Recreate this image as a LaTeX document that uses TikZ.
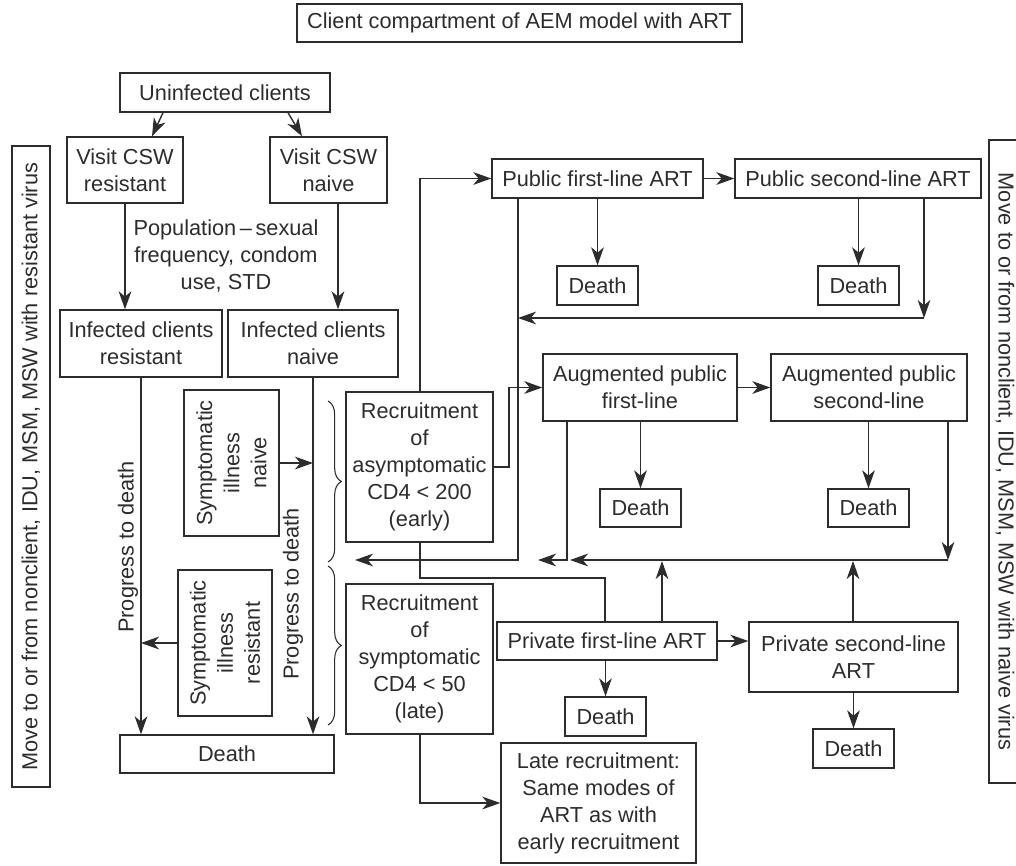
\documentclass[tikz,border=0pt]{standalone}
\usepackage{fontspec}
\setmainfont{Liberation Sans}
\usetikzlibrary{arrows.meta,decorations.pathreplacing,calc}
\definecolor{ink}{HTML}{2c2c2c}
\newcommand{\dfont}{\fontsize{16.3}{20.3}\selectfont}
% \mkbox[options]{name}{x1}{y1}{x2}{y2}{text}: box given by its corners
\newcommand{\mkbox}[7][]{%
  \node[box,#1,minimum width={(#5-#3)*0.75pt},minimum height={(#6-#4)*0.75pt}]
    (#2) at ({(#3+#5)/2},{(#4+#6)/2}) {#7};}
\tikzset{
  box/.style={draw, rectangle, inner sep=1pt, align=center, font=\dfont},
  rot/.style={rotate=90, align=center, font=\dfont, inner sep=0pt},
  lbl/.style={align=center, font=\dfont, inner sep=0pt},
  arr/.style={-{Stealth[length=13.5pt,width=9.5pt,inset=4pt]}},
  brc/.style={decorate, decoration={brace, amplitude=10pt}, line width=0.8pt}
}
\begin{document}
\begin{tikzpicture}[x=0.75pt, y=-0.75pt, line width=1.05pt, color=ink]
\useasboundingbox (0,0) rectangle (1016,865);

% title
\mkbox{title}{297}{4}{742}{42}{Client compartment of AEM model with ART}

% side boxes
\mkbox{sidel}{12}{146}{50}{787}{}
\node[rot] at (sidel) {Move to or from nonclient, IDU, MSM, MSW with resistant virus};
\mkbox{sider}{989}{140}{1021}{783}{}
\node[rotate=-90, font=\dfont, inner sep=0pt] at (sider) {Move to or from nonclient, IDU, MSM, MSW with naive virus};

% infection part
\mkbox{unin}{120}{73}{330}{112}{Uninfected clients}
\mkbox{vcr}{67}{137}{183}{203}{Visit CSW\\resistant}
\mkbox{vcn}{270}{137}{387}{203}{Visit CSW\\naive}
\mkbox{icr}{60}{310}{222}{377}{Infected clients\\resistant}
\mkbox{icn}{228}{310}{398}{377}{Infected clients\\naive}
\mkbox{sin}{184}{390}{279}{536}{}
\node[rot] at (sin) {Symptomatic\\illness\\naive};
\mkbox{sir}{178}{570}{272}{716}{}
\node[rot] at (sir) {Symptomatic\\illness\\resistant};
\mkbox{dth}{120}{735}{334}{773}{Death}

\node[lbl] (pop) at (226,256) {Population\,–\,sexual\\frequency, condom\\use, STD};
\node[rot] (pgl) at (128,547) {Progress to death};
\node[rot] (pgr) at (293,594) {Progress to death};

\draw[arr] (163,0 |- unin.south) -- (152,0 |- vcr.north);
\draw[arr] (288,0 |- unin.south) -- (302,0 |- vcn.north);
\draw[arr] (125,0 |- vcr.south) -- (125,0 |- icr.north);
\draw[arr] (338,0 |- vcn.south) -- (338,0 |- icn.north);
\draw[arr] (141,0 |- icr.south) -- (141,0 |- dth.north);
\draw[arr] (313,0 |- icn.south) -- (313,0 |- dth.north);
\draw[arr] (sin.east) -- (313,0 |- sin.east);
\draw[arr] (sir.west) -- (141,0 |- sir.west);

% braces grouping the recruitment stages
\coordinate (b1a) at (328,401);
\coordinate (b1b) at (328,562);
\coordinate (b2a) at (328,566);
\coordinate (b2b) at (328,725);
\draw[brc] (b1a) -- (b1b);
\draw[brc] (b2a) -- (b2b);

% recruitment
\mkbox{rec}{346}{392}{493}{542}{Recruitment\\of\\asymptomatic\\CD4 < 200\\(early)}
\mkbox{rlt}{346}{584}{493}{734}{Recruitment\\of\\symptomatic\\CD4 < 50\\(late)}
\mkbox{late}{501}{743}{696}{863}{Late recruitment:\\Same modes of\\ART as with\\early recruitment}

% treatment compartments
\mkbox{pub1}{492}{159}{703}{198}{Public first-line ART}
\mkbox{pub2}{735}{159}{981}{198}{Public second-line ART}
\mkbox{dp1}{557}{266}{638}{305}{Death}
\mkbox{dp2}{818}{266}{899}{305}{Death}
\mkbox{aug1}{543}{354}{737}{421}{Augmented public\\first-line}
\mkbox{aug2}{771}{354}{967}{421}{Augmented public\\second-line}
\mkbox{da1}{600}{489}{681}{527}{Death}
\mkbox{da2}{828}{489}{909}{527}{Death}
\mkbox{prv1}{497}{622}{717}{660}{Private first-line ART}
\mkbox{prv2}{749}{622}{958}{692}{Private second-line\\ART}
\mkbox{dv1}{565}{697}{646}{736}{Death}
\mkbox{dv2}{813}{729}{894}{768}{Death}

% recruitment routes
\draw[arr] (420,0 |- rec.north) -- (420,0 |- pub1.west) -- (pub1.west);
\draw[arr] (rec.east |- 0,467) -- (509,467) -- (509,0 |- aug1.west) -- (aug1.west);
\draw (420,0 |- rec.south) -- (420,578) -- (605,578) -- (605,0 |- prv1.north);
\draw[arr] (420,0 |- rlt.south) -- (420,0 |- late.west) -- (late.west);

% first to second line
\draw[arr] (pub1.east) -- (pub2.west);
\draw[arr] (aug1.east) -- (aug2.west);
\draw[arr] (prv1.east) -- (prv1.east -| prv2.west);

% deaths
\draw[arr] (dp1.north |- pub1.south) -- (dp1.north);
\draw[arr] (dp2.north |- pub2.south) -- (dp2.north);
\draw[arr] (da1.north |- aug1.south) -- (da1.north);
\draw[arr] (da2.north |- aug2.south) -- (da2.north);
\draw[arr] (dv1.north |- prv1.south) -- (dv1.north);
\draw[arr] (dv2.north |- prv2.south) -- (dv2.north);

% returns from treatment
\coordinate (rp) at (924,318);
\draw[arr] (rp |- pub2.south) -- (rp);
\draw[arr] (rp) -- (518,318);
\coordinate (ra) at (948,560);
\draw[arr] (518,0 |- pub1.south) -- (518,560) -- (355,560);
\draw[arr] (ra |- aug2.south) -- (ra);
\draw[arr] (ra) -- (570,560);
\draw[arr] (567,0 |- aug1.south) -- (567,560) -- (538,560);
\draw[arr] (662,0 |- prv1.north) -- (662,561);
\draw[arr] (853,0 |- prv2.north) -- (853,561);
\end{tikzpicture}
\end{document}
